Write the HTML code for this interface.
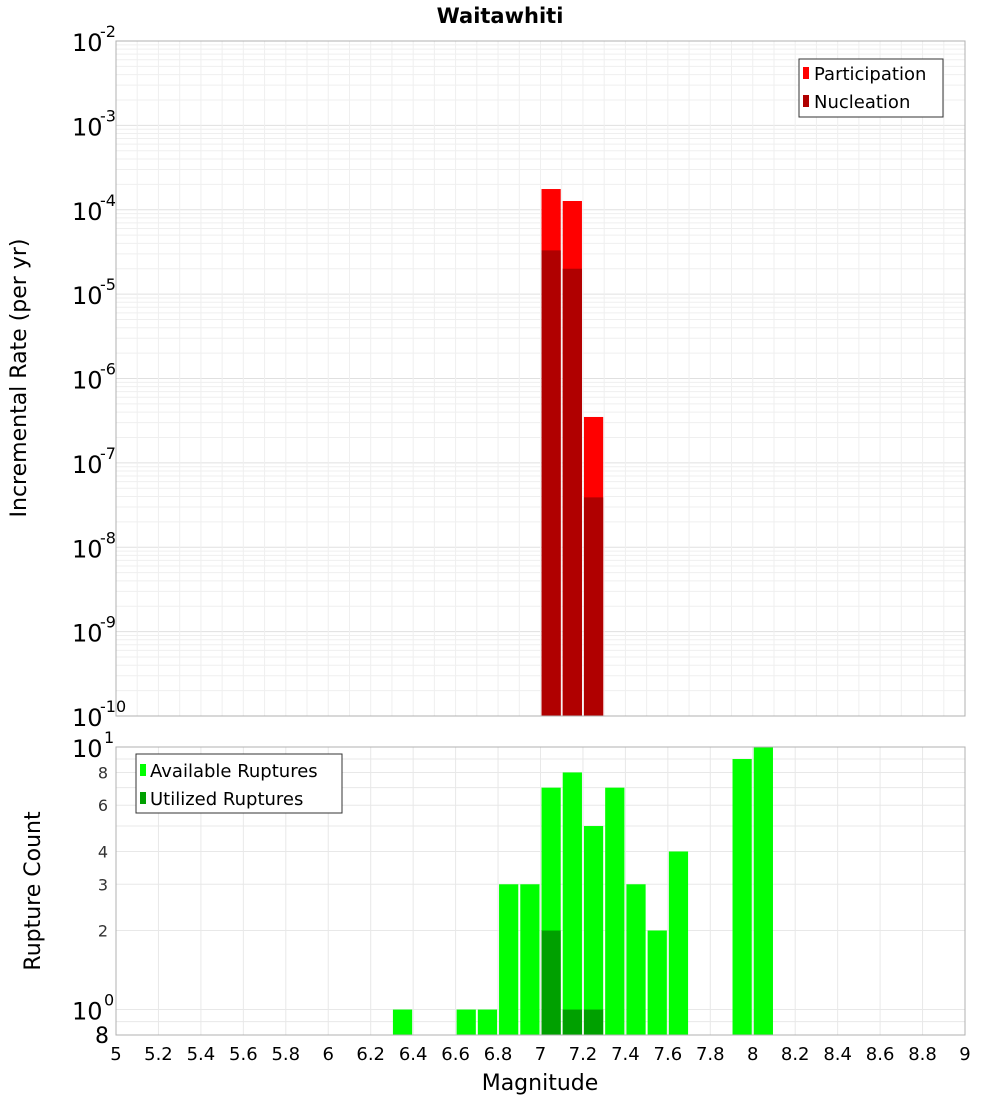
<!DOCTYPE html>
<html><head><meta charset="utf-8"><style>
body{margin:0;background:#fff;font-family:"DejaVu Sans","Liberation Sans",sans-serif}
svg text{font-family:"DejaVu Sans","Liberation Sans",sans-serif}
</style></head><body>
<svg id="c" width="1000" height="1100" xmlns="http://www.w3.org/2000/svg"></svg>
<script>
const mags=[7.0,7.1,7.2];
const participation=[1.76e-4,1.27e-4,3.5e-7];
const nucleation=[3.3e-5,2.0e-5,3.9e-8];
const availMags=[6.3,6.6,6.7,6.8,6.9,7.0,7.1,7.2,7.3,7.4,7.5,7.6,7.9,8.0];
const available=[1,1,1,3,3,7,8,5,7,3,2,4,9,10];
const utilMags=[7.0,7.1,7.2];
const utilized=[2,1,1];
const xTicks=["5","5.2","5.4","5.6","5.8","6","6.2","6.4","6.6","6.8","7","7.2","7.4","7.6","7.8","8","8.2","8.4","8.6","8.8","9"];

const svg=document.getElementById('c');
const NS="http://www.w3.org/2000/svg";
function el(t,a,p){const e=document.createElementNS(NS,t);for(const k in a)e.setAttribute(k,a[k]);(p||svg).appendChild(e);return e;}
const L=116,R=965;
const x=m=>L+(m-5)*(R-L)/4;
const T0=41,T1=716;
const yT=v=>T0+(-2-Math.log10(v))*(T1-T0)/8;
const B0=747,B1=1035;
const yB=v=>B0+(1-Math.log10(v))*(B1-B0)/(1-Math.log10(0.8));

// title
let t=el('text',{x:500,y:23,'text-anchor':'middle','font-size':21,'font-weight':'bold'});t.textContent='Waitawhiti';


// top grid
const gTop=el('g',{});

for(let d=-10;d<-2;d++)for(let k=1;k<10;k++){const yy=yT(k*Math.pow(10,d));el('line',{x1:L,x2:R,y1:yy,y2:yy,stroke:k==1?'#e0e0e0':'#efefef','stroke-width':1},gTop);}
for(let i=0;i<=40;i++){const xx=x(5+i*0.1);el('line',{x1:xx,x2:xx,y1:T0,y2:T1,stroke:'#efefef'},gTop);}
// top bars
for(let i=0;i<mags.length;i++){
 let b=el('rect',{x:x(mags[i])+1,y:yT(participation[i]),width:x(mags[i]+0.1)-x(mags[i])-2,height:T1-yT(participation[i]),fill:'#ff0000'});
 
 b=el('rect',{x:x(mags[i])+1,y:yT(nucleation[i]),width:x(mags[i]+0.1)-x(mags[i])-2,height:T1-yT(nucleation[i]),fill:'#b00000'});
 
}
el('rect',{x:L,y:T0,width:R-L,height:T1-T0,fill:'none',stroke:'#b0b0b0'});
// top y labels
for(let d=-10;d<=-2;d++){const yy=yT(Math.pow(10,d));
 const tx=el('text',{x:72,y:yy+10,'font-size':24});tx.textContent='10';
 
 const s=el('text',{x:100,y:yy-4,'font-size':16});s.textContent=String(d);
 }
t=el('text',{x:26,y:378,'text-anchor':'middle','font-size':22,transform:'rotate(-90 26 378)'});t.textContent='Incremental Rate (per yr)';

// top legend
const lg=el('g',{});
el('rect',{x:799,y:59,width:144,height:58,fill:'#fff',stroke:'#333'},lg);
el('rect',{x:803,y:67,width:6,height:12,fill:'#ff0000'},lg);
el('rect',{x:803,y:95,width:6,height:12,fill:'#b00000'},lg);
t=el('text',{x:814,y:80,'font-size':18},lg);t.textContent='Participation';
t=el('text',{x:814,y:108,'font-size':18},lg);t.textContent='Nucleation';

// bottom grid
const gB=el('g',{});
[0.8,0.9,1,2,3,4,5,6,7,8,9,10].forEach(v=>{const yy=yB(v);el('line',{x1:L,x2:R,y1:yy,y2:yy,stroke:'#e8e8e8'},gB);});
for(let i=0;i<=20;i++){const xx=x(5+i*0.2);el('line',{x1:xx,x2:xx,y1:B0,y2:B1,stroke:'#e8e8e8'},gB);}
for(let i=0;i<availMags.length;i++){
 const b=el('rect',{x:x(availMags[i])+1,y:yB(available[i]),width:x(availMags[i]+0.1)-x(availMags[i])-2,height:B1-yB(available[i]),fill:'#00ff00'});
 }
for(let i=0;i<utilMags.length;i++){
 const b=el('rect',{x:x(utilMags[i])+1,y:yB(utilized[i]),width:x(utilMags[i]+0.1)-x(utilMags[i])-2,height:B1-yB(utilized[i]),fill:'#00a000'});
 }
el('rect',{x:L,y:B0,width:R-L,height:B1-B0,fill:'none',stroke:'#b0b0b0'});
// bottom y labels
[[8,'8'],[6,'6'],[4,'4'],[3,'3'],[2,'2']].forEach(([v,s])=>{const tt=el('text',{x:108,y:yB(v)+6,'text-anchor':'end','font-size':16,fill:'#333'});tt.textContent=s;});
[[10,'1'],[1,'0']].forEach(([v,e])=>{const yy=yB(v);const tt=el('text',{x:72,y:yy+10,'font-size':24});tt.textContent='10';
 const s=el('text',{x:104,y:yy-4,'font-size':16});s.textContent=e;});
t=el('text',{x:95,y:1043,'font-size':22});t.textContent='8';
t=el('text',{x:40,y:891,'text-anchor':'middle','font-size':22,transform:'rotate(-90 40 891)'});t.textContent='Rupture Count';

// bottom legend
const lg2=el('g',{});
el('rect',{x:136,y:754,width:206,height:59,fill:'#fff',stroke:'#333'},lg2);
el('rect',{x:140,y:764,width:6,height:12,fill:'#00ff00'},lg2);
el('rect',{x:140,y:792,width:6,height:12,fill:'#00a000'},lg2);
t=el('text',{x:150,y:777,'font-size':18},lg2);t.textContent='Available Ruptures';
t=el('text',{x:150,y:805,'font-size':18},lg2);t.textContent='Utilized Ruptures';
// x ticks
xTicks.forEach(s=>{const tt=el('text',{x:x(parseFloat(s)),y:1060,'text-anchor':'middle','font-size':18});tt.textContent=s;});
t=el('text',{x:540,y:1090,'text-anchor':'middle','font-size':22});t.textContent='Magnitude';

</script>
</body></html>
